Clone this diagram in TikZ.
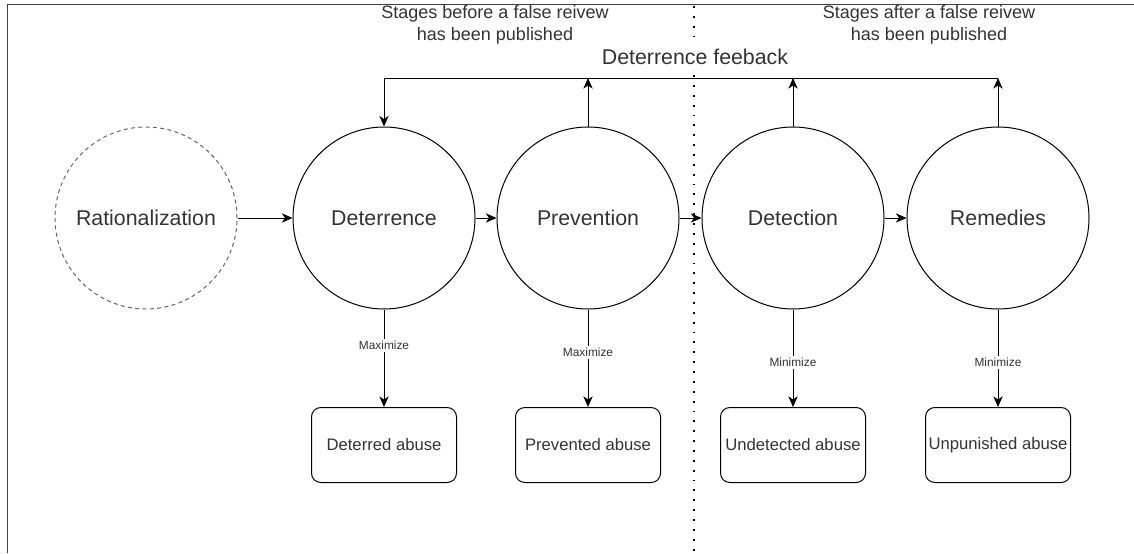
\documentclass[tikz,border=0pt]{standalone}
\usepackage{fontspec}
\setmainfont{Liberation Sans}
\usetikzlibrary{arrows.meta,positioning}

\begin{document}
\begin{tikzpicture}[x=0.75pt,y=-0.75pt,line width=0.75pt,
  >={Stealth[length=8pt,width=7pt,inset=2.4pt]},
  every node/.style={text=black!80},
  stage/.style={draw,circle,minimum size=136.5pt,inner sep=0pt,font=\fontsize{16}{19}\selectfont},
  outc/.style={draw,rounded corners=7pt,minimum width=108.75pt,minimum height=56.25pt,inner sep=0pt,font=\fontsize{12.5}{15}\selectfont},
  lbl/.style={fill=white,inner sep=1.5pt,font=\fontsize{8.9}{10}\selectfont},
  note/.style={align=center,font=\fontsize{13.5}{17}\selectfont}]
  \useasboundingbox (0,0) rectangle (1134,553);
  % frame and divider
  \draw[black!75] (7,553) -- (7,4) -- (1134,4);
  \draw[line width=1.4pt,dash pattern=on 1.4pt off 6pt] (694,6) -- (694,553);
  \node[note] (before) at (495,25) {Stages before a false reivew\\has been published};
  \node[note] (after) at (929,25) {Stages after a false reivew\\has been published};
  \node[fill=white,inner sep=5pt,font=\fontsize{16}{19}\selectfont] (fbl) at (695,57) {Deterrence feeback};
  % stages
  \node[stage,draw=black!60,dash pattern=on 3pt off 2.5pt] (rat) at (146,218) {Rationalization};
  \node[stage] (det) at (384,218) {Deterrence};
  \node[stage] (pre) at (588,218) {Prevention};
  \node[stage] (dtc) at (793,218) {Detection};
  \node[stage] (rem) at (998,218) {Remedies};
  % outcomes
  \node[outc] (detb) at (384,445) {Deterred abuse};
  \node[outc] (preb) at (588,445) {Prevented abuse};
  \node[outc] (dtcb) at (793,445) {Undetected abuse};
  \node[outc] (remb) at (998,445) {Unpunished abuse};
  \draw[->] (rat) -- (det);
  \draw[->] (det) -- (pre);
  \draw[->] (pre) -- (dtc);
  \draw[->] (dtc) -- (rem);
  \draw[->] (det) -- node[lbl,pos=0.37]{Maximize} (detb);
  \draw[->] (pre) -- node[lbl,pos=0.44]{Maximize} (preb);
  \draw[->] (dtc) -- node[lbl,pos=0.54]{Minimize} (dtcb);
  \draw[->] (rem) -- node[lbl,pos=0.54]{Minimize} (remb);
  % feedback loop
  \coordinate (fbR) at (998,78);
  \coordinate (fbL) at (384,78);
  \draw[->] (fbR) -- (fbL) -- (det);
  \draw[->] (pre) -- (pre |- fbR);
  \draw[->] (dtc) -- (dtc |- fbR);
  \draw[->] (rem) -- (fbR);
\end{tikzpicture}
\end{document}
